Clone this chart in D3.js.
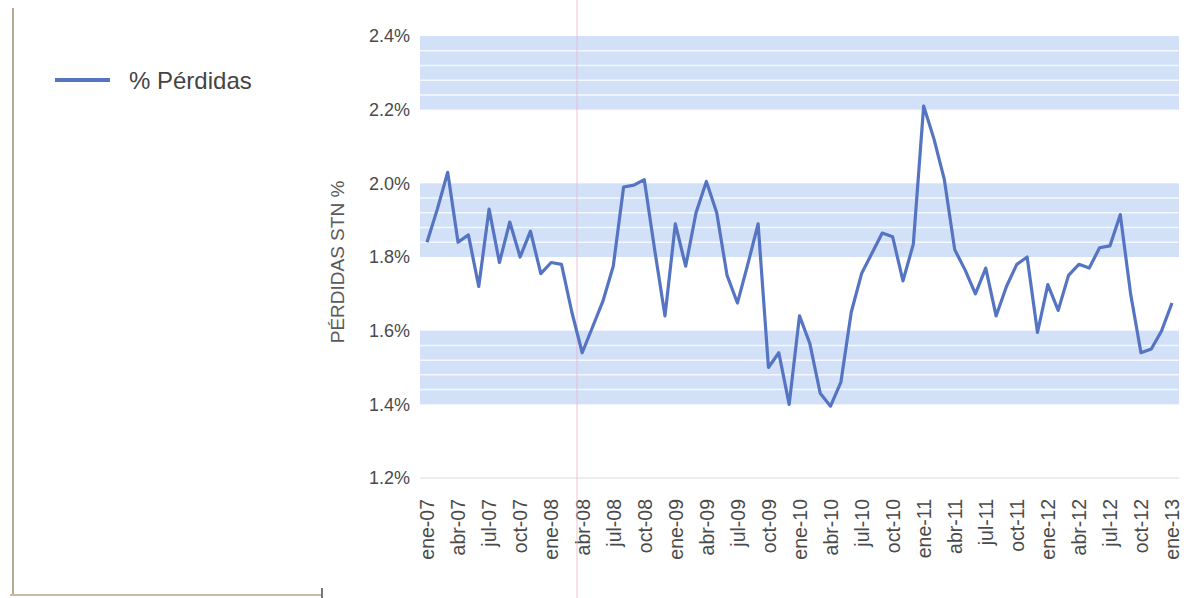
<!DOCTYPE html>
<html>
<head>
<meta charset="utf-8">
<script src="https://cdn.jsdelivr.net/npm/d3@7"></script>
<style>
  html, body { margin: 0; padding: 0; background: #fff; }
  svg { display: block; font-family: "Liberation Sans", Arial, sans-serif; }
</style>
</head>
<body>
<svg id="chart" width="1190" height="598"></svg>
<script>
// Monthly losses (% Pérdidas STN), ene-07 .. ene-13
const months = ["ene","feb","mar","abr","may","jun","jul","ago","sep","oct","nov","dic"];
const years = ["07","08","09","10","11","12","13"];
const periods = [];
years.forEach(y => months.forEach(m => periods.push(m + "-" + y)));
periods.length = 73;

const perdidas = [
  1.84, 1.93, 2.03, 1.84, 1.86, 1.72, 1.93, 1.785, 1.895, 1.80, 1.87, 1.755,
  1.785, 1.78, 1.65, 1.54, 1.61, 1.68, 1.775, 1.99, 1.995, 2.01, 1.82, 1.64,
  1.89, 1.775, 1.92, 2.005, 1.92, 1.75, 1.675, 1.78, 1.89, 1.50, 1.54, 1.40,
  1.64, 1.565, 1.43, 1.395, 1.46, 1.65, 1.755, 1.81, 1.865, 1.855, 1.735, 1.835,
  2.21, 2.12, 2.01, 1.82, 1.765, 1.70, 1.77, 1.64, 1.72, 1.78, 1.80, 1.595,
  1.725, 1.655, 1.75, 1.78, 1.77, 1.825, 1.83, 1.915, 1.70, 1.54, 1.55, 1.60,
  1.675
];

const yTicks = [1.2, 1.4, 1.6, 1.8, 2.0, 2.2, 2.4];
const shadedBands = [[1.4, 1.6], [1.8, 2.0], [2.2, 2.4]];
const xTickLabels = periods.filter((d, i) => i % 3 === 0);

const svg = d3.select("#chart");

const x = d3.scalePoint().domain(periods).range([427, 1172]);
const y = d3.scaleLinear().domain([1.2, 2.4]).range([478, 36]);
const plotLeft = 420, plotRight = 1179;

// Left panel frame
svg.append("line").attr("x1", 13).attr("x2", 13).attr("y1", 8).attr("y2", 595)
  .attr("stroke", "#b9a98f").attr("stroke-width", 2);
svg.append("line").attr("x1", 10).attr("x2", 322).attr("y1", 595).attr("y2", 595)
  .attr("stroke", "#c8bb9f").attr("stroke-width", 2);
svg.append("line").attr("x1", 322).attr("x2", 322).attr("y1", 588).attr("y2", 598)
  .attr("stroke", "#777").attr("stroke-width", 2);

// Shaded bands with fine white lines
const bandG = svg.append("g");
shadedBands.forEach(([lo, hi]) => {
  bandG.append("rect")
    .attr("x", plotLeft).attr("width", plotRight - plotLeft)
    .attr("y", y(hi)).attr("height", y(lo) - y(hi))
    .attr("fill", "#d2e1f8");
  d3.range(1, 5).forEach(k => {
    const v = lo + (hi - lo) * k / 5;
    bandG.append("line")
      .attr("x1", plotLeft).attr("x2", plotRight)
      .attr("y1", y(v)).attr("y2", y(v))
      .attr("stroke", "#f4f8fe").attr("stroke-width", 1.5);
  });
});

// Baseline at 1.2%
svg.append("line").attr("x1", plotLeft).attr("x2", plotRight)
  .attr("y1", y(1.2)).attr("y2", y(1.2))
  .attr("stroke", "#dcdcdc").attr("stroke-width", 1);

// Y axis labels
const yAxis = d3.axisLeft(y).tickValues(yTicks)
  .tickFormat(d => d.toFixed(1) + "%").tickSize(0).tickPadding(0);
const yg = svg.append("g").attr("transform", "translate(410,0)").call(yAxis);
yg.select(".domain").remove();
yg.selectAll("text").attr("fill", "#4a4a4a").style("font-size", "18px")
  .style("font-family", "'Liberation Sans', Arial, sans-serif");

// X axis labels, rotated
const xAxis = d3.axisBottom(x).tickValues(xTickLabels).tickSize(0).tickPadding(0);
const xg = svg.append("g").attr("transform", "translate(0,499)").call(xAxis);
xg.select(".domain").remove();
xg.selectAll("text")
  .attr("fill", "#4a4a4a").style("font-size", "19.5px")
  .style("font-family", "'Liberation Sans', Arial, sans-serif")
  .attr("text-anchor", "end")
  .attr("dy", "0.35em")
  .attr("transform", "rotate(-90)")
  .attr("x", 0).attr("y", 0);

// Y axis title
svg.append("text")
  .attr("transform", "translate(344,262) rotate(-90)")
  .attr("text-anchor", "middle")
  .attr("fill", "#5a5a5a").style("font-size", "19px")
  .text("PÉRDIDAS STN %");

// Faint vertical marker line
svg.append("line").attr("x1", 577).attr("x2", 577).attr("y1", 0).attr("y2", 598)
  .attr("stroke", "#e9b5cf").attr("stroke-width", 1).attr("opacity", 0.8);

// Data line
const line = d3.line().x((d, i) => x(periods[i])).y(d => y(d));
svg.append("path").datum(perdidas)
  .attr("d", line)
  .attr("fill", "none")
  .attr("stroke", "#5574c2")
  .attr("stroke-width", 3.2)
  .attr("stroke-linejoin", "round");

// Legend
svg.append("line").attr("x1", 55).attr("x2", 110).attr("y1", 80).attr("y2", 80)
  .attr("stroke", "#5574c2").attr("stroke-width", 4);
svg.append("text").attr("x", 129).attr("y", 89)
  .attr("fill", "#444").style("font-size", "24px")
  .text("% Pérdidas");
</script>
</body>
</html>
